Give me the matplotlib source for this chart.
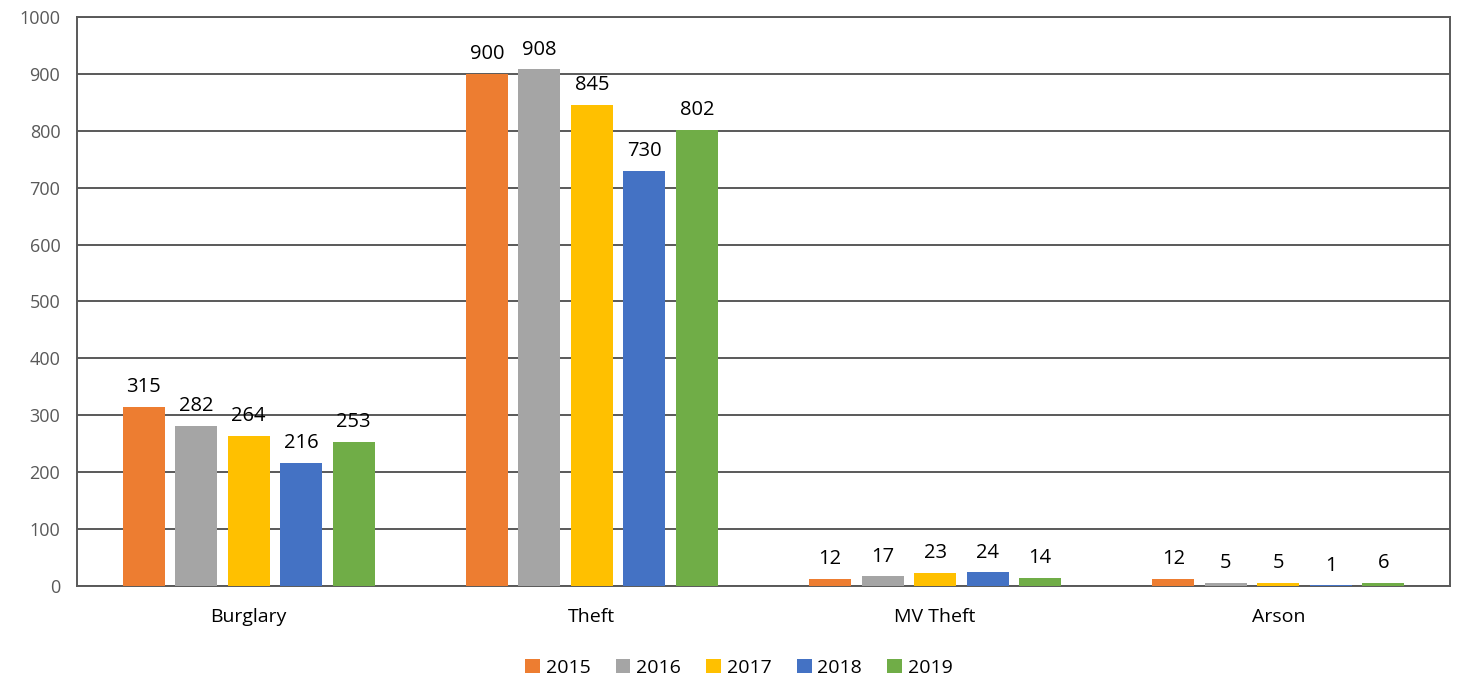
import numpy as np
import matplotlib.pyplot as plt

plt.rcParams['font.family'] = ['Open Sans', 'DejaVu Sans']

categories = ["Burglary", "Theft", "MV Theft", "Arson"]
years = ["2015", "2016", "2017", "2018", "2019"]
values = {
    "2015": [315, 900, 12, 12],
    "2016": [282, 908, 17, 5],
    "2017": [264, 845, 23, 5],
    "2018": [216, 730, 24, 1],
    "2019": [253, 802, 14, 6],
}
colors = ["#ED7D31", "#A5A5A5", "#FFC000", "#4472C4", "#70AD47"]

fig = plt.figure(figsize=(14.57, 6.81), dpi=100)
ax = fig.add_axes([77 / 1457, 1 - 586 / 681, 1373 / 1457, 569 / 681])

x = np.arange(len(categories))
pitch = 0.153
width = 0.122
for i, yr in enumerate(years):
    pos = x + (i - 2) * pitch
    bars = ax.bar(pos, values[yr], width, color=colors[i], label=yr, zorder=3)
    for b, v in zip(bars, values[yr]):
        ax.annotate(str(v), (b.get_x() + b.get_width() / 2, v), xytext=(0, 7),
                    textcoords="offset points", ha="center", va="bottom",
                    fontsize=14.5, color="black")

ax.set_xlim(-0.5, 3.5)
ax.set_ylim(0, 1000)
ax.set_yticks(range(0, 1001, 100))
ax.yaxis.grid(True, color="#595959", linewidth=1.4, zorder=0)
ax.set_axisbelow(True)
for s in ax.spines.values():
    s.set_color("#595959")
    s.set_linewidth(1.4)
ax.tick_params(axis="both", length=0)
ax.tick_params(axis="y", labelsize=13, labelcolor="#595959", pad=12)
ax.set_xticks(x)
ax.set_xticklabels(categories, fontsize=14, color="black")
ax.tick_params(axis="x", pad=16)

fig.legend(loc="center", bbox_to_anchor=(739 / 1457, 1 - 668 / 681), ncol=5, frameon=False,
           fontsize=14, handlelength=0.75, handleheight=0.75, handletextpad=0.3,
           columnspacing=1.3)

fig.savefig("out.png", dpi=100)
